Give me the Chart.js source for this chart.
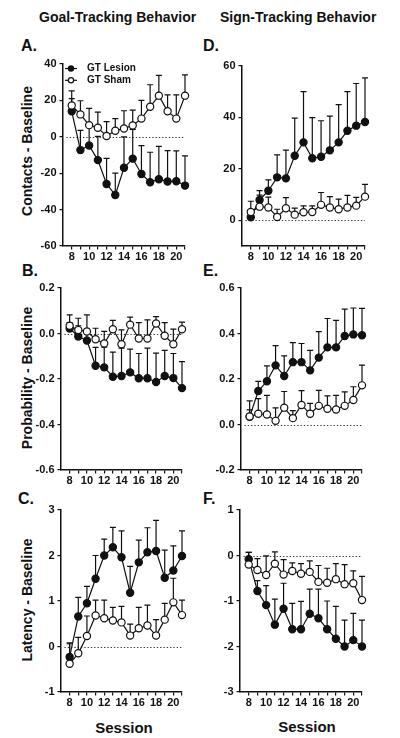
<!DOCTYPE html>
<html lang="en">
<head>
  <meta charset="UTF-8">
  <title>Goal-Tracking / Sign-Tracking Behavior</title>
  <script src="https://cdn.jsdelivr.net/npm/chart.js"></script>
  <style>
    body {
      margin: 0;
      width: 400px;
      height: 738px;
      position: relative;
      overflow: hidden;
      background: #fff;
      font-family: "Liberation Sans", Arial, sans-serif;
      font-weight: bold;
      color: #111;
    }
    .txt { position: absolute; white-space: nowrap; line-height: 1; }
    .title { font-size: 14px; }
    .letter { font-size: 16px; }
    .ytitle { font-size: 14px; width: 200px; height: 14px; text-align: center; transform: rotate(-90deg); }
    .xtitle { font-size: 15px; width: 100px; text-align: center; }
    canvas { position: absolute; }
  </style>
</head>
<body>
  <div class="txt title" style="left:39px; top:10px;">Goal-Tracking Behavior</div>
  <div class="txt title" style="left:220px; top:10px;">Sign-Tracking Behavior</div>

  <div class="txt letter" style="left:21px; top:38px;">A.</div>
  <div class="txt letter" style="left:203px; top:38px;">D.</div>
  <div class="txt letter" style="left:22px; top:263px;">B.</div>
  <div class="txt letter" style="left:203px; top:263px;">E.</div>
  <div class="txt letter" style="left:18px; top:491px;">C.</div>
  <div class="txt letter" style="left:203px; top:491px;">F.</div>

  <div class="txt ytitle" style="left:-73px; top:144px;">Contacts - Baseline</div>
  <div class="txt ytitle" style="left:-73px; top:371px;">Probability - Baseline</div>
  <div class="txt ytitle" style="left:-73px; top:593px;">Latency - Baseline</div>

  <div class="txt xtitle" style="left:74px; top:720px;">Session</div>
  <div class="txt xtitle" style="left:257px; top:719px;">Session</div>

  <script>
    // sessions 8 - 21
    const sessions = [8, 9, 10, 11, 12, 13, 14, 15, 16, 17, 18, 19, 20, 21];

    // A. contacts, goal-trackers
    const gtContactsLesion    = [14, -7.3, -4.8, -12.8, -25.9, -32, -17, -12, -20.4, -25, -23.3, -24.6, -24.4, -26.8];
    const gtContactsLesionSem = [7, 10.8, 12, 13, 14, 12, 17, 16, 15.5, 16.5, 18, 17, 16.7, 16.3];
    const gtContactsSham      = [17.2, 12.3, 6.4, 5, 0.4, 3.3, 4.6, 6.2, 10, 16.5, 22.6, 14, 10, 22.6];
    const gtContactsShamSem   = [8, 7.5, 9.2, 8.6, 7.9, 6.7, 9.7, 8.5, 10, 12.1, 11.2, 9, 13, 11.4];

    // D. contacts, sign-trackers
    const stContactsLesion    = [1.2, 7.9, 11.5, 16.7, 16.3, 25.1, 30.3, 24.1, 24.7, 27.2, 30.3, 34.8, 36.8, 38.2];
    const stContactsLesionSem = [3, 3.6, 4.2, 8.7, 11, 14.6, 19.7, 15.8, 14, 13.3, 14.7, 15.2, 16.4, 17.2];
    const stContactsSham      = [3.2, 5.3, 5, 1.3, 4.7, 2.2, 3.1, 3.2, 6, 5, 4.3, 5, 5.7, 9.2];
    const stContactsShamSem   = [4.2, 4.5, 4, 3, 4.1, 2.5, 2.5, 2.4, 4.8, 4.2, 3.9, 4.7, 3.2, 4.8];

    // B. probability, goal-trackers
    const gtProbLesion    = [0.022, -0.013, -0.031, -0.142, -0.149, -0.19, -0.187, -0.171, -0.197, -0.197, -0.213, -0.187, -0.196, -0.24];
    const gtProbLesionSem = [0.026, 0.047, 0.05, 0.081, 0.089, 0.108, 0.123, 0.102, 0.109, 0.133, 0.127, 0.113, 0.108, 0.116];
    const gtProbSham      = [0.034, 0.015, 0.009, -0.025, -0.044, 0.019, -0.047, 0.039, -0.022, -0.022, 0.044, -0.01, -0.047, 0.019];
    const gtProbShamSem   = [0.048, 0.052, 0.073, 0.048, 0.053, 0.039, 0.063, 0.033, 0.07, 0.082, 0.03, 0.058, 0.066, 0.031];

    // E. probability, sign-trackers
    const stProbLesion    = [0.034, 0.147, 0.19, 0.26, 0.213, 0.274, 0.274, 0.238, 0.294, 0.339, 0.339, 0.389, 0.396, 0.392];
    const stProbLesionSem = [0.07, 0.043, 0.068, 0.087, 0.089, 0.086, 0.082, 0.088, 0.114, 0.127, 0.119, 0.118, 0.116, 0.118];
    const stProbSham      = [0.035, 0.047, 0.044, 0.016, 0.074, 0.028, 0.086, 0.047, 0.082, 0.069, 0.066, 0.082, 0.108, 0.172];
    const stProbShamSem   = [0.029, 0.067, 0.084, 0.057, 0.071, 0.033, 0.063, 0.046, 0.068, 0.057, 0.062, 0.061, 0.058, 0.089];

    // C. latency, goal-trackers
    const gtLatLesion    = [-0.23, 0.66, 0.95, 1.49, 2.0, 2.18, 1.96, 1.18, 1.85, 2.07, 2.1, 1.51, 1.67, 1.99];
    const gtLatLesionSem = [0.31, 0.42, 0.37, 0.51, 0.36, 0.44, 0.58, 0.58, 0.49, 0.54, 0.67, 0.61, 0.54, 0.55];
    const gtLatSham      = [-0.38, -0.15, 0.23, 0.68, 0.62, 0.57, 0.53, 0.24, 0.4, 0.46, 0.24, 0.59, 0.97, 0.69];
    const gtLatShamSem   = [0.44, 0.35, 0.44, 0.34, 0.4, 0.29, 0.35, 0.25, 0.46, 0.45, 0.35, 0.36, 0.53, 0.33];

    // F. latency, sign-trackers
    const stLatLesion    = [-0.08, -0.78, -1.09, -1.52, -1.17, -1.62, -1.62, -1.28, -1.38, -1.62, -1.83, -2.0, -1.86, -2.0];
    const stLatLesionSem = [0.15, 0.23, 0.43, 0.56, 0.56, 0.57, 0.61, 0.54, 0.64, 0.62, 0.71, 0.58, 0.59, 0.58];
    const stLatSham      = [-0.2, -0.32, -0.43, -0.18, -0.42, -0.34, -0.4, -0.36, -0.58, -0.6, -0.52, -0.63, -0.61, -0.98];
    const stLatShamSem   = [0.27, 0.25, 0.42, 0.26, 0.33, 0.18, 0.22, 0.24, 0.36, 0.32, 0.34, 0.43, 0.27, 0.52];

    // y tick values
    const contactsGTTicks = [-60, -40, -20, 0, 20, 40];
    const contactsSTTicks = [0, 20, 40, 60];
    const probGTTicks = [-0.6, -0.4, -0.2, 0, 0.2];
    const probSTTicks = [-0.2, 0, 0.2, 0.4, 0.6];
    const latGTTicks = [-1, 0, 1, 2, 3];
    const latSTTicks = [-3, -2, -1, 0, 1];

    const INK = '#111';
    Chart.defaults.font.family = '"Liberation Sans", Arial, sans-serif';
    Chart.defaults.font.weight = 'bold';
    Chart.defaults.font.size = 11;
    Chart.defaults.color = INK;

    // dotted zero line + upward SEM bars, drawn under the lines and markers
    const semBars = {
      id: 'semBars',
      beforeDatasetsDraw(chart) {
        const { ctx, scales: { x, y } } = chart;
        ctx.save();
        const y0 = Math.round(y.getPixelForValue(0)) + 0.5;
        ctx.strokeStyle = '#333';
        ctx.lineWidth = 1.2;
        ctx.setLineDash([1.3, 2]);
        ctx.beginPath();
        ctx.moveTo(x.getPixelForValue(7.4), y0);
        ctx.lineTo(x.getPixelForValue(21), y0);
        ctx.stroke();
        ctx.setLineDash([]);
        ctx.strokeStyle = INK;
        ctx.lineWidth = 1.2;
        chart.data.datasets.forEach(ds => {
          ds.data.forEach((p, i) => {
            const px = x.getPixelForValue(p.x);
            const py = y.getPixelForValue(p.y);
            const top = y.getPixelForValue(p.y + ds.sem[i]);
            ctx.beginPath();
            ctx.moveTo(px, py);
            ctx.lineTo(px, top);
            ctx.moveTo(px - 3, top);
            ctx.lineTo(px + 3, top);
            ctx.stroke();
          });
        });
        ctx.restore();
      }
    };

    // legend inside panel A
    const innerLegend = {
      id: 'innerLegend',
      afterDatasetsDraw(chart, args, opts) {
        if (!opts.show) return;
        const { ctx, chartArea } = chart;
        ctx.save();
        ctx.font = 'bold 10px "Liberation Sans", Arial, sans-serif';
        ctx.textBaseline = 'middle';
        [0, 1].forEach(i => {
          const ds = chart.data.datasets[i];
          const cy = chartArea.top + 4.5 + i * 11.8;
          const cx = chartArea.left + 8;
          ctx.strokeStyle = INK;
          ctx.lineWidth = 1.2;
          ctx.beginPath();
          ctx.moveTo(chartArea.left + 2, cy);
          ctx.lineTo(chartArea.left + 14, cy);
          ctx.stroke();
          ctx.beginPath();
          ctx.arc(cx, cy, 2.6, 0, Math.PI * 2);
          ctx.fillStyle = ds.pointBackgroundColor;
          ctx.fill();
          ctx.stroke();
          ctx.fillStyle = INK;
          ctx.fillText(ds.label, chartArea.left + 24, cy);
        });
        ctx.restore();
      }
    };

    function series(label, values, sem, fill, order) {
      return {
        label: label,
        data: values.map((v, i) => ({ x: sessions[i], y: v })),
        sem: sem,
        borderColor: INK,
        borderWidth: 1.2,
        pointRadius: 3.6,
        pointBorderWidth: 1.2,
        pointBorderColor: INK,
        pointBackgroundColor: fill,
        tension: 0,
        clip: false,
        order: order
      };
    }

    const panels = [
      { box: [63, 64, 185, 246], group: 'GT', lesion: gtContactsLesion, lesionSem: gtContactsLesionSem, sham: gtContactsSham, shamSem: gtContactsShamSem, min: -60, max: 40, ticks: contactsGTTicks, dec: 0, legend: true },
      { box: [242, 66, 365, 246], group: 'ST', lesion: stContactsLesion, lesionSem: stContactsLesionSem, sham: stContactsSham, shamSem: stContactsShamSem, min: -10, max: 60, ticks: contactsSTTicks, dec: 0 },
      { box: [61, 288, 182, 470], group: 'GT', lesion: gtProbLesion, lesionSem: gtProbLesionSem, sham: gtProbSham, shamSem: gtProbShamSem, min: -0.6, max: 0.2, ticks: probGTTicks, dec: 1 },
      { box: [241, 288, 362, 470], group: 'ST', lesion: stProbLesion, lesionSem: stProbLesionSem, sham: stProbSham, shamSem: stProbShamSem, min: -0.2, max: 0.6, ticks: probSTTicks, dec: 1 },
      { box: [61, 510, 182, 692], group: 'GT', lesion: gtLatLesion, lesionSem: gtLatLesionSem, sham: gtLatSham, shamSem: gtLatShamSem, min: -1, max: 3, ticks: latGTTicks, dec: 0 },
      { box: [240, 510, 362, 692], group: 'ST', lesion: stLatLesion, lesionSem: stLatLesionSem, sham: stLatSham, shamSem: stLatShamSem, min: -3, max: 1, ticks: latSTTicks, dec: 0 }
    ];

    const PAD_L = 40, PAD_T = 12, PAD_R = 8, PAD_B = 22;

    panels.forEach(p => {
      const [L, T, R, B] = p.box;
      const canvas = document.createElement('canvas');
      canvas.width = R - L + PAD_L + PAD_R;
      canvas.height = B - T + PAD_T + PAD_B;
      canvas.style.left = (L - PAD_L) + 'px';
      canvas.style.top = (T - PAD_T) + 'px';
      document.body.appendChild(canvas);

      new Chart(canvas, {
        type: 'line',
        data: {
          datasets: [
            series(p.group + ' Lesion', p.lesion, p.lesionSem, INK, 1),
            series(p.group + ' Sham', p.sham, p.shamSem, '#fff', 0)
          ]
        },
        options: {
          responsive: false,
          animation: false,
          devicePixelRatio: 1,
          layout: { padding: { top: PAD_T, right: PAD_R, left: 0, bottom: 0 } },
          plugins: {
            legend: { display: false },
            tooltip: { enabled: false },
            innerLegend: { show: !!p.legend }
          },
          scales: {
            x: {
              type: 'linear',
              min: 7,
              max: 21,
              afterBuildTicks: s => { s.ticks = sessions.map(v => ({ value: v })); },
              afterFit: s => { s.height = PAD_B; },
              ticks: {
                autoSkip: false,
                maxRotation: 0,
                padding: 1,
                callback: v => (v % 2 === 0 ? String(v) : '')
              },
              grid: { drawOnChartArea: false, tickLength: 3.5, color: INK, lineWidth: 1.2 },
              border: { color: INK, width: 1.5 }
            },
            y: {
              type: 'linear',
              min: p.min,
              max: p.max,
              afterBuildTicks: s => { s.ticks = p.ticks.map(v => ({ value: v })); },
              afterFit: s => { s.width = PAD_L; },
              ticks: {
                padding: 3,
                callback: v => v.toFixed(p.dec)
              },
              grid: { drawOnChartArea: false, tickLength: 3.5, color: INK, lineWidth: 1.2 },
              border: { color: INK, width: 1.5 }
            }
          }
        },
        plugins: [semBars, innerLegend]
      });
    });
  </script>
</body>
</html>
